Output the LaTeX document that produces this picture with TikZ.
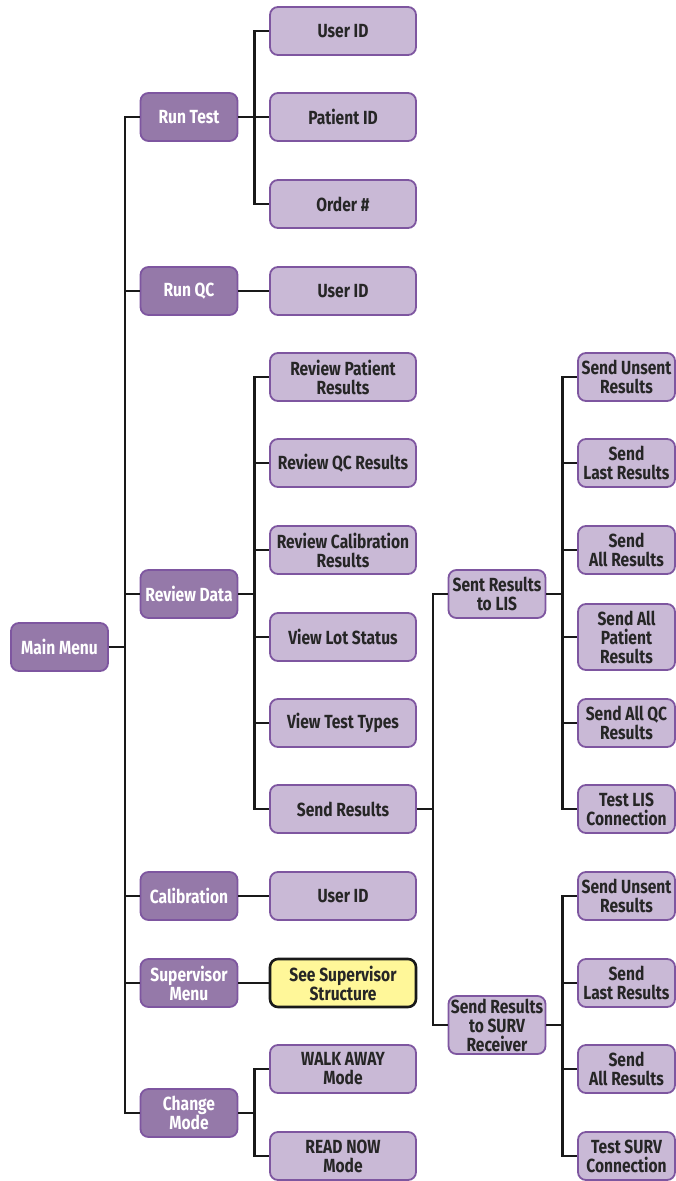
\documentclass[tikz,border=0pt]{standalone}
\usepackage{fontspec}
\setmainfont[FakeStretch=0.82]{Fira Sans}
\definecolor{darkpurple}{HTML}{9579A9}
\definecolor{lightpurple}{HTML}{C9B9D6}
\definecolor{edgepurple}{HTML}{7E56A0}
\definecolor{notefill}{HTML}{FFF799}
\tikzset{
  menubox/.style={draw=edgepurple,line width=1.8pt,fill=darkpurple,rounded corners=8pt,
    text=white,font=\fontsize{19}{19}\selectfont\bfseries,align=center,
    minimum width=97pt,minimum height=48pt,inner sep=0.5pt},
  itembox/.style={menubox,fill=lightpurple,text=black!85},
  widebox/.style={itembox,minimum width=146pt},
  notebox/.style={widebox,draw=black!90,line width=2.6pt,fill=notefill},
  conn/.style={line width=2.4pt,black!90}
}
\begin{document}
\begin{tikzpicture}[x=1pt,y=-1pt]
\useasboundingbox (0,0) rectangle (676,1181);
% root
\node[menubox] (mm) at (59.5,647) {Main Menu};
% first level
\node[menubox] (rt) at (189,117) {Run Test};
\node[menubox] (rqc) at (189,291) {Run QC};
\node[menubox] (rd) at (189,594) {Review Data};
\node[menubox] (cal) at (189,896) {Calibration};
\node[menubox] (sup) at (189,983) {Supervisor\\Menu};
\node[menubox] (cm) at (189,1113) {Change\\Mode};
% second level
\node[widebox] (uid1) at (343,31) {User ID};
\node[widebox] (pid) at (343,117) {Patient ID};
\node[widebox] (ord) at (343,204) {Order \#};
\node[widebox] (uid2) at (343,291) {User ID};
\node[widebox] (rpr) at (343,377) {Review Patient\\Results};
\node[widebox] (rqr) at (343,463) {Review QC Results};
\node[widebox] (rcr) at (343,550) {Review Calibration\\Results};
\node[widebox] (vls) at (343,637) {View Lot Status};
\node[widebox] (vtt) at (343,723) {View Test Types};
\node[widebox] (sr) at (343,809) {Send Results};
\node[widebox] (uid3) at (343,896) {User ID};
\node[notebox] (sss) at (343,983) {See Supervisor\\Structure};
\node[widebox] (wam) at (343,1069) {WALK AWAY\\Mode};
\node[widebox] (rnm) at (343,1156) {READ NOW\\Mode};
% third level
\node[itembox] (lis) at (497,594) {Sent Results\\to LIS};
\node[itembox,minimum height=58pt] (surv) at (497,1025) {Send Results\\to SURV\\Receiver};
% fourth level, LIS
\node[itembox] (lus) at (626.5,377) {Send Unsent\\Results};
\node[itembox] (lla) at (626.5,463) {Send\\Last Results};
\node[itembox] (lal) at (626.5,550) {Send\\All Results};
\node[itembox,minimum height=66pt] (lap) at (626.5,637) {Send All\\Patient\\Results};
\node[itembox] (laq) at (626.5,723) {Send All QC\\Results};
\node[itembox] (ltc) at (626.5,809) {Test LIS\\Connection};
% fourth level, SURV
\node[itembox] (sus) at (626.5,896) {Send Unsent\\Results};
\node[itembox] (sla) at (626.5,983) {Send\\Last Results};
\node[itembox] (sal) at (626.5,1069) {Send\\All Results};
\node[itembox] (stc) at (626.5,1156) {Test SURV\\Connection};
% connectors
\foreach \c in {rt,rqc,rd,cal,sup,cm}
  \draw[conn] (mm.east) -- ++(16,0) |- (\c.west);
\foreach \c in {uid1,pid,ord}
  \draw[conn] (rt.east) -- ++(16,0) |- (\c.west);
\draw[conn] (rqc) -- (uid2);
\foreach \c in {rpr,rqr,rcr,vls,vtt,sr}
  \draw[conn] (rd.east) -- ++(16,0) |- (\c.west);
\draw[conn] (cal) -- (uid3);
\draw[conn] (sup) -- (sss);
\foreach \c in {wam,rnm}
  \draw[conn] (cm.east) -- ++(16,0) |- (\c.west);
\foreach \c in {lis,surv}
  \draw[conn] (sr.east) -- ++(16,0) |- (\c.west);
\foreach \c in {lus,lla,lal,lap,laq,ltc}
  \draw[conn] (lis.east) -- ++(16,0) |- (\c.west);
\foreach \c in {sus,sla,sal,stc}
  \draw[conn] (surv.east) -- ++(16,0) |- (\c.west);
\end{tikzpicture}
\end{document}
